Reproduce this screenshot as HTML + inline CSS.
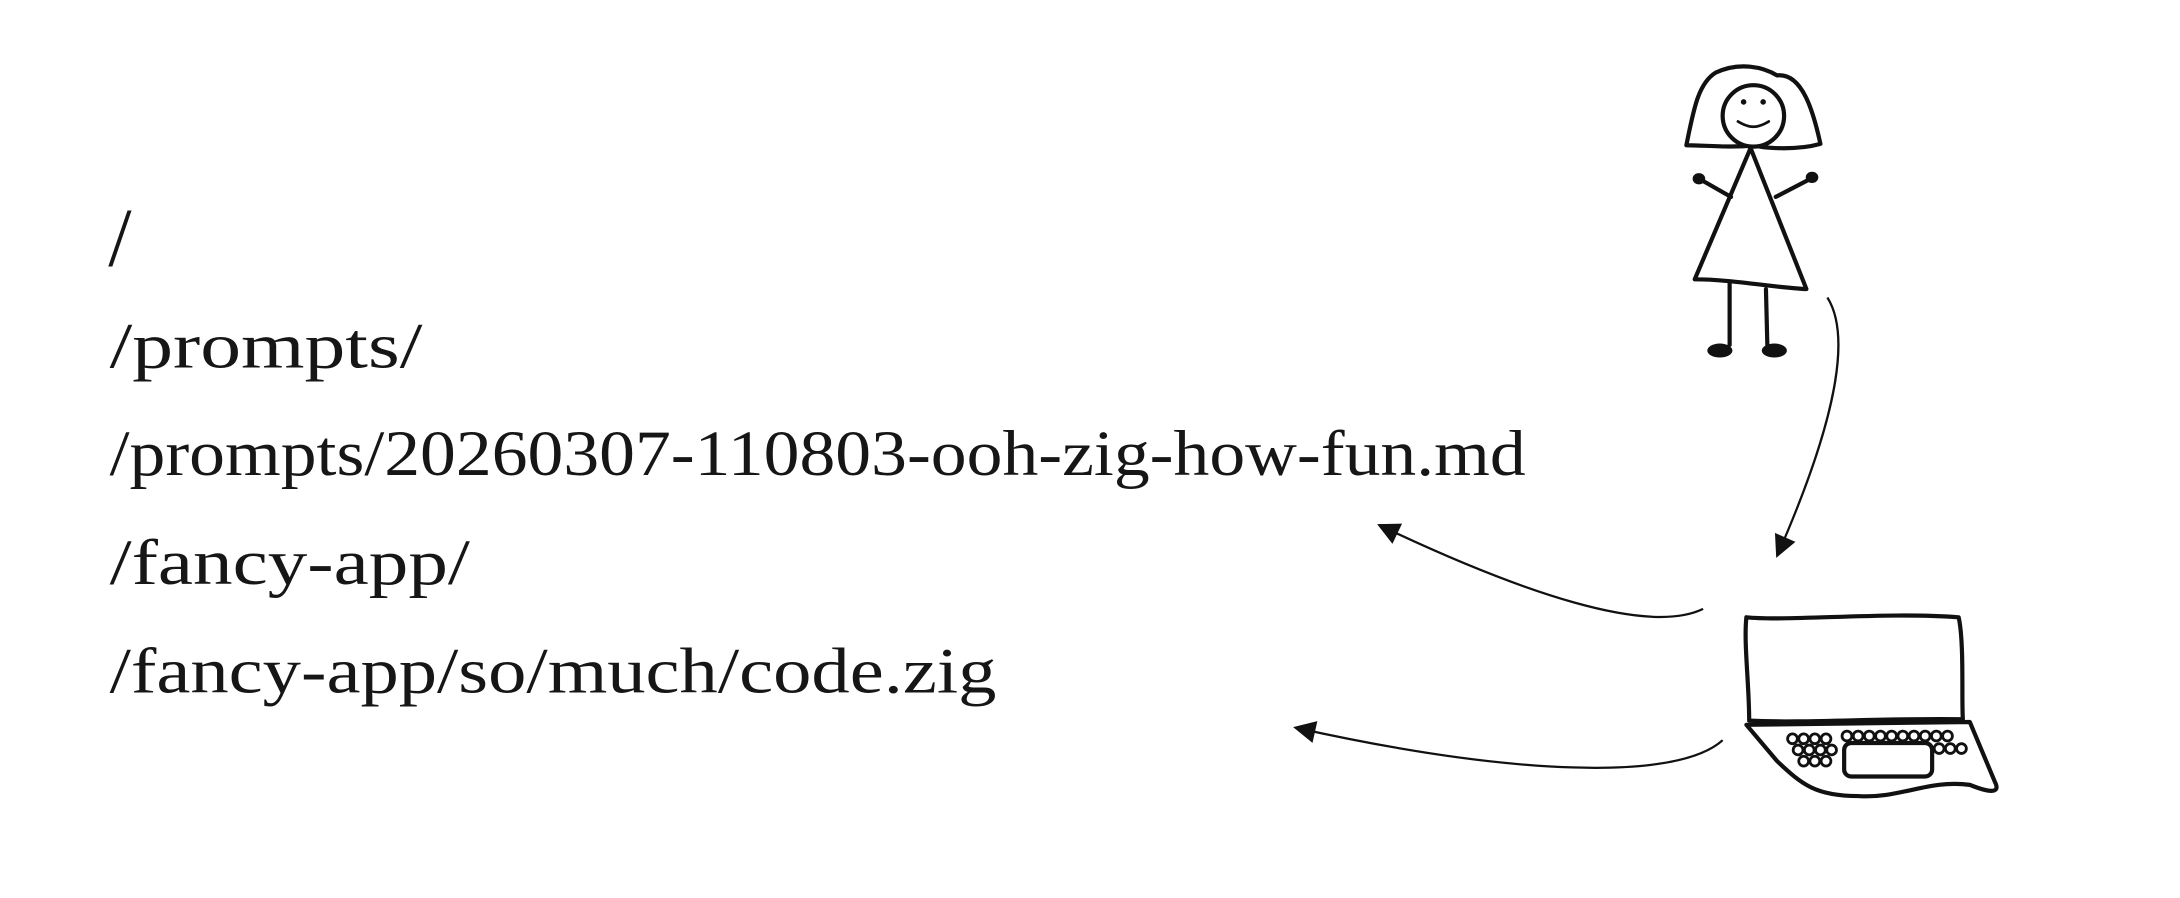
<!DOCTYPE html>
<html><head><meta charset="utf-8"><style>
html,body{margin:0;padding:0;background:#fff;}
svg{display:block;}
</style></head><body>
<svg width="2180" height="898" viewBox="0 0 1560 643" xmlns="http://www.w3.org/2000/svg">
<rect width="1560" height="643" fill="#fff"/>
<g font-family="'Liberation Serif', serif" font-size="46" fill="#161616">
<text x="77" y="190" font-size="60">/</text>
<text x="78" y="263" textLength="224" lengthAdjust="spacingAndGlyphs">/prompts/</text>
<text x="78" y="340" textLength="1014" lengthAdjust="spacingAndGlyphs">/prompts/20260307-110803-ooh-zig-how-fun.md</text>
<text x="78" y="418" textLength="258" lengthAdjust="spacingAndGlyphs">/fancy-app/</text>
<text x="78" y="496" textLength="635" lengthAdjust="spacingAndGlyphs">/fancy-app/so/much/code.zig</text>
</g>
<defs>
<marker id="ah2" viewBox="0 0 10 10" markerWidth="20" markerHeight="16" refX="9" refY="5" orient="auto" markerUnits="userSpaceOnUse"><path d="M0,0 L10,5 L0,10 Z" fill="#111"/></marker></defs>
<g fill="none" stroke="#111" stroke-width="1.6">
<path d="M1308,213 C1325,240 1315,300 1272,398" marker-end="url(#ah2)"/>
<path d="M1219,436 C1180,455 1090,425 987,376" marker-end="url(#ah2)"/>
<path d="M1233,530 C1200,560 1080,555 927,521" marker-end="url(#ah2)"/>
</g>
<g fill="none" stroke="#111" stroke-width="3" stroke-linecap="round" stroke-linejoin="round">
<path d="M1207,104 C1212,80 1215,60 1228,52 C1245,44 1262,48 1272,54 C1290,52 1298,80 1303,103 C1285,108 1262,106 1255,104 C1240,106 1220,104 1207,104 Z"/>
<circle cx="1255" cy="83" r="22" fill="#fff"/>
<path d="M1244,87 C1252,92 1258,92 1266,87" stroke-width="2"/>
<path d="M1253,106 L1213,200 C1240,200 1270,206 1293,207 Z"/>
<path d="M1239,141 L1218,129 M1271,141 L1296,128"/>
<path d="M1238,203 L1238,247 M1264,207 L1265,247"/>
<path d="M1250,442 C1280,445 1350,438 1402,442 C1406,460 1404,500 1405,515 C1350,514 1290,518 1252,516 C1252,490 1248,460 1250,442 Z"/>
<path d="M1250,519 L1410,517 L1428,560 C1432,568 1425,568 1410,562 C1380,558 1360,572 1330,570 C1300,570 1290,562 1272,545 L1250,519"/>
<rect x="1320" y="532" width="63" height="24" rx="5"/>
</g>
<g fill="none" stroke="#111" stroke-width="2">
<circle cx="1283" cy="529" r="3.5"/><circle cx="1291" cy="529" r="3.5"/><circle cx="1299" cy="529" r="3.5"/><circle cx="1307" cy="529" r="3.5"/>
<circle cx="1287" cy="537" r="3.5"/><circle cx="1295" cy="537" r="3.5"/><circle cx="1303" cy="537" r="3.5"/><circle cx="1311" cy="537" r="3.5"/>
<circle cx="1291" cy="545" r="3.5"/><circle cx="1299" cy="545" r="3.5"/><circle cx="1307" cy="545" r="3.5"/>
<circle cx="1322" cy="527" r="3.5"/><circle cx="1330" cy="527" r="3.5"/><circle cx="1338" cy="527" r="3.5"/><circle cx="1346" cy="527" r="3.5"/><circle cx="1354" cy="527" r="3.5"/><circle cx="1362" cy="527" r="3.5"/><circle cx="1370" cy="527" r="3.5"/><circle cx="1378" cy="527" r="3.5"/><circle cx="1386" cy="527" r="3.5"/><circle cx="1394" cy="527" r="3.5"/>
<circle cx="1388" cy="536" r="3.5"/><circle cx="1396" cy="536" r="3.5"/><circle cx="1404" cy="536" r="3.5"/>
</g>
<g fill="#111">
<circle cx="1248" cy="73" r="2"/><circle cx="1262" cy="73" r="2"/>
<ellipse cx="1216" cy="128" rx="4.5" ry="4"/><ellipse cx="1297" cy="127" rx="4.5" ry="4"/>
<ellipse cx="1231" cy="251" rx="9" ry="5"/><ellipse cx="1270" cy="251" rx="9" ry="5"/>
</g>
</svg>
</body></html>
